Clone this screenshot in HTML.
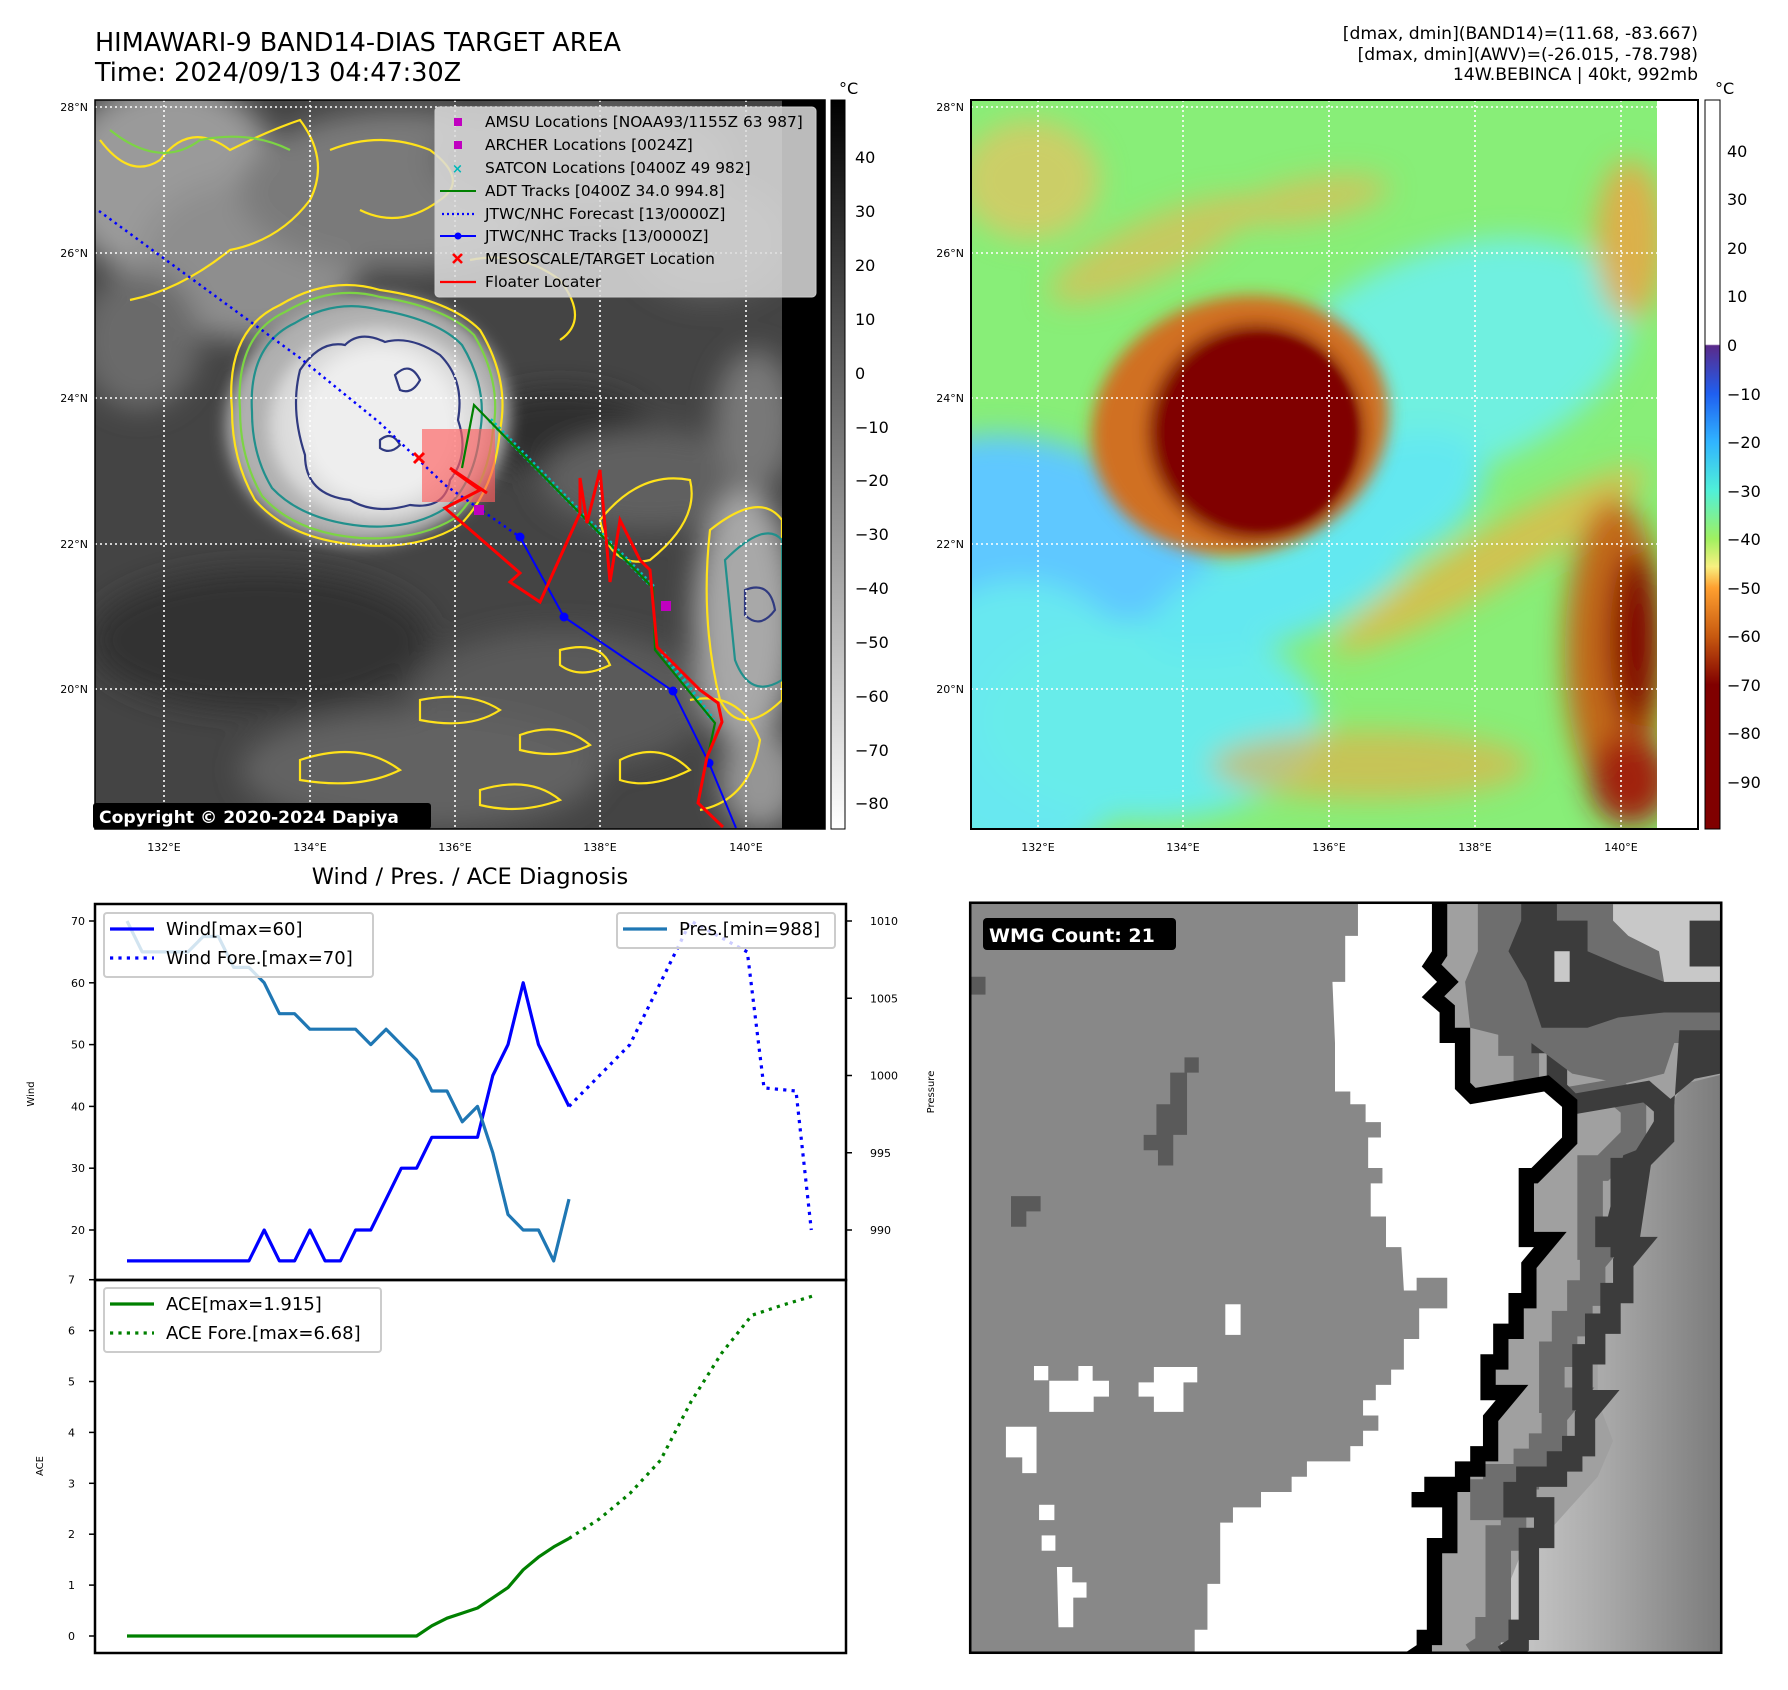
<!DOCTYPE html>
<html><head><meta charset="utf-8">
<style>
html,body{margin:0;padding:0;background:#fff;}
body{width:1788px;height:1690px;position:relative;overflow:hidden;font-family:"DejaVu Sans","Liberation Sans",sans-serif;}
svg{position:absolute;left:0;top:0;}
text{font-family:"DejaVu Sans","Liberation Sans",sans-serif;}
</style></head>
<body>
<svg id="root" width="1788" height="1690" viewBox="0 0 1788 1690" xmlns="http://www.w3.org/2000/svg">
<defs>
  <filter id="b4" x="-20%" y="-20%" width="140%" height="140%"><feGaussianBlur stdDeviation="4"/></filter>
  <filter id="b8" x="-30%" y="-30%" width="160%" height="160%"><feGaussianBlur stdDeviation="8"/></filter>
  <filter id="b14" x="-40%" y="-40%" width="180%" height="180%"><feGaussianBlur stdDeviation="14"/></filter>
  <clipPath id="clipL"><rect x="95" y="100" width="687" height="729"/></clipPath>
  <clipPath id="clipR"><rect x="971" y="100" width="686" height="729"/></clipPath>
  <clipPath id="clipW"><rect x="20" y="25" width="1472" height="1470"/></clipPath>
  <linearGradient id="cbGray" x1="0" y1="0" x2="0" y2="1">
    <stop offset="0" stop-color="#000"/><stop offset="1" stop-color="#fff"/>
  </linearGradient>
  <linearGradient id="cbJet" x1="0" y1="0" x2="0" y2="1">
    <stop offset="0" stop-color="#ffffff"/><stop offset="0.335" stop-color="#ffffff"/>
    <stop offset="0.337" stop-color="#5a2a8a"/><stop offset="0.403" stop-color="#1f5ff0"/>
    <stop offset="0.469" stop-color="#30b4ff"/><stop offset="0.536" stop-color="#50f0d8"/>
    <stop offset="0.602" stop-color="#a0f060"/><stop offset="0.640" stop-color="#f8f080"/>
    <stop offset="0.669" stop-color="#ffa030"/><stop offset="0.735" stop-color="#c85a10"/>
    <stop offset="0.802" stop-color="#800000"/><stop offset="1" stop-color="#800000"/>
  </linearGradient>
  <linearGradient id="wmgLight" x1="0" y1="0" x2="1" y2="0">
    <stop offset="0" stop-color="#d0d0d0"/><stop offset="0.5" stop-color="#a8a8a8"/><stop offset="1" stop-color="#7a7a7a"/>
  </linearGradient>
</defs>

<!-- ========== TITLES ========== -->
<text x="95" y="51" font-size="25.5" fill="#000">HIMAWARI-9 BAND14-DIAS TARGET AREA</text>
<text x="95" y="81" font-size="25.5" fill="#000">Time: 2024/09/13 04:47:30Z</text>
<g font-size="17.2" text-anchor="end" fill="#000">
  <text x="1698" y="39">[dmax, dmin](BAND14)=(11.68, -83.667)</text>
  <text x="1698" y="60">[dmax, dmin](AWV)=(-26.015, -78.798)</text>
  <text x="1698" y="80">14W.BEBINCA | 40kt, 992mb</text>
</g>

<!-- ========== LEFT MAP (IR grayscale) ========== -->
<g>
<rect x="95" y="100" width="730" height="729" fill="#000"/>
<g clip-path="url(#clipL)">
  <rect x="95" y="100" width="687" height="729" fill="#444"/>
  <g filter="url(#b14)">
    <ellipse cx="170" cy="180" rx="110" ry="100" fill="#9a9a9a"/>
    <ellipse cx="250" cy="260" rx="110" ry="80" fill="#8e8e8e"/>
    <ellipse cx="400" cy="190" rx="160" ry="80" fill="#7a7a7a"/>
    <ellipse cx="580" cy="160" rx="150" ry="60" fill="#666"/>
    <ellipse cx="710" cy="240" rx="80" ry="60" fill="#5e5e5e"/>
    <ellipse cx="140" cy="340" rx="60" ry="70" fill="#6a6a6a"/>
    <ellipse cx="560" cy="430" rx="90" ry="40" fill="#2e2e2e"/>
    <ellipse cx="260" cy="640" rx="170" ry="70" fill="#303030"/>
    <ellipse cx="560" cy="700" rx="150" ry="70" fill="#5a5a5a"/>
    <ellipse cx="420" cy="770" rx="180" ry="60" fill="#626262"/>
    <ellipse cx="650" cy="480" rx="110" ry="50" fill="#606060"/>
    <ellipse cx="745" cy="620" rx="50" ry="130" fill="#a8a8a8"/>
    <ellipse cx="755" cy="420" rx="40" ry="70" fill="#787878"/>
    <ellipse cx="760" cy="780" rx="40" ry="50" fill="#959595"/>
  </g>
  <g filter="url(#b8)">
    <ellipse cx="368" cy="420" rx="142" ry="124" fill="#b0b0b0" transform="rotate(-10 368 420)"/>
    <ellipse cx="378" cy="425" rx="108" ry="96" fill="#dcdcdc"/>
    <ellipse cx="380" cy="425" rx="80" ry="78" fill="#eeeeee"/>
  </g>
  <g fill="none" stroke-width="2.2">
    <path d="M232,410 Q225,330 280,305 Q330,275 380,290 Q450,300 480,330 Q510,380 500,430 Q495,490 460,525 Q420,550 360,545 Q290,540 255,500 Q232,460 232,410 Z" stroke="#ffe21a"/>
    <path d="M240,410 Q235,335 285,312 Q332,284 380,297 Q445,307 474,335 Q502,382 493,430 Q488,486 455,518 Q418,541 360,538 Q295,533 262,496 Q240,458 240,410 Z" stroke="#7cd444"/>
    <path d="M252,412 Q248,345 295,323 Q335,298 380,310 Q438,320 462,345 Q488,388 480,432 Q475,482 446,508 Q412,530 362,526 Q302,520 272,488 Q252,455 252,412 Z" stroke="#21908c"/>
    <path d="M300,370 Q320,340 345,345 Q360,330 385,342 Q410,335 440,355 Q465,380 458,420 Q470,455 450,480 Q445,510 410,505 Q375,515 350,500 Q305,495 305,455 Q290,410 300,370 Z" stroke="#303a80"/>
    <path d="M395,375 Q410,360 420,380 Q412,395 400,390 Z M380,440 Q392,430 400,445 Q390,455 380,448 Z" stroke="#303a80"/>
    <path d="M100,140 Q130,180 160,160 Q190,120 230,150 Q270,130 300,120 Q330,160 310,200 Q280,240 230,250 Q180,290 130,300" stroke="#ffe21a"/>
    <path d="M110,130 Q160,170 200,140 Q250,130 290,150" stroke="#7cd444"/>
    <path d="M330,150 Q380,130 430,150 Q470,180 440,200 Q400,230 360,210" stroke="#ffe21a"/>
    <path d="M470,260 Q520,250 560,280 Q590,320 560,340" stroke="#ffe21a"/>
    <path d="M600,520 Q640,470 690,480 Q700,520 650,560 Q610,570 600,520 Z" stroke="#ffe21a"/>
    <path d="M710,530 Q760,490 782,520 L782,700 Q740,740 720,700 Q700,620 710,530 Z" stroke="#ffe21a"/>
    <path d="M725,560 Q765,520 782,540 L782,680 Q750,700 735,660 Z" stroke="#21908c"/>
    <path d="M745,590 Q770,580 775,610 Q760,630 745,615 Z" stroke="#303a80"/>
    <path d="M690,700 Q740,690 760,740 Q750,800 700,810" stroke="#ffe21a"/>
    <path d="M420,700 Q470,690 500,710 Q470,730 420,720 Z" stroke="#ffe21a"/>
    <path d="M300,760 Q360,740 400,770 Q360,790 300,780 Z" stroke="#ffe21a"/>
    <path d="M520,735 Q560,720 590,745 Q560,760 520,750 Z" stroke="#ffe21a"/>
    <path d="M620,760 Q660,740 690,770 Q650,790 620,780 Z" stroke="#ffe21a"/>
    <path d="M480,790 Q530,775 560,800 Q520,815 480,805 Z" stroke="#ffe21a"/>
    <path d="M560,650 Q600,640 610,665 Q580,680 560,665 Z" stroke="#ffe21a"/>
  </g>
  <g stroke="#fff" stroke-width="1.6" stroke-dasharray="2 3">
    <line x1="164" y1="100" x2="164" y2="829"/><line x1="310" y1="100" x2="310" y2="829"/>
    <line x1="455" y1="100" x2="455" y2="829"/><line x1="600" y1="100" x2="600" y2="829"/>
    <line x1="746" y1="100" x2="746" y2="829"/>
    <line x1="95" y1="107" x2="825" y2="107"/><line x1="95" y1="253" x2="825" y2="253"/>
    <line x1="95" y1="398" x2="825" y2="398"/><line x1="95" y1="544" x2="825" y2="544"/>
    <line x1="95" y1="689" x2="825" y2="689"/>
  </g>
  <rect x="422" y="429" width="73" height="73" fill="#ff6060" opacity="0.65"/>
  <polyline points="99,211 300,358 380,423 445,485 520,537" fill="none" stroke="#0000ff" stroke-width="2.5" stroke-dasharray="2.5 4"/>
  <polyline points="520,537 564,617 673,691 709,763 736,828" fill="none" stroke="#0000ff" stroke-width="2"/>
  <g fill="#0000ff"><circle cx="520" cy="537" r="4.5"/><circle cx="564" cy="617" r="4.5"/><circle cx="673" cy="691" r="4.5"/><circle cx="709" cy="763" r="4.5"/></g>
  <polyline points="490,420 653,587" fill="none" stroke="#00c0c0" stroke-width="5" stroke-dasharray="2.5 3"/>
  <polyline points="663,653 713,720" fill="none" stroke="#00c0c0" stroke-width="5" stroke-dasharray="2.5 3"/>
  <polyline points="462,468 474,405 653,588 655,650 715,723 707,760" fill="none" stroke="#008000" stroke-width="2.2"/>
  <polyline points="450,468 487,493 452,470 480,490 445,508 467,527 520,573 510,582 540,602 580,513 580,478 587,523 600,470 610,582 620,520 640,560 650,570 657,647 700,690 718,703 722,722 707,757 698,803 723,827" fill="none" stroke="#ff0000" stroke-width="3"/>
  <g stroke="#ff0000" stroke-width="3"><line x1="414" y1="453" x2="424" y2="463"/><line x1="424" y1="453" x2="414" y2="463"/></g>
  <rect x="474" y="505" width="10" height="10" fill="#c000c0"/>
  <rect x="661" y="601" width="10" height="10" fill="#c000c0"/>
</g>
<g>
  <rect x="435" y="107" width="381" height="190" rx="4" fill="#dcdcdc" fill-opacity="0.85" stroke="#ccc"/>
  <g font-size="15.4" fill="#000">
    <rect x="454" y="118" width="8" height="8" fill="#c000c0"/><text x="485" y="127">AMSU Locations [NOAA93/1155Z 63 987]</text>
    <rect x="454" y="141" width="8" height="8" fill="#c000c0"/><text x="485" y="150">ARCHER Locations [0024Z]</text>
    <text x="452" y="173" font-size="13" fill="#00b8b8" font-weight="bold">×</text><text x="485" y="173">SATCON Locations [0400Z 49 982]</text>
    <line x1="440" y1="191" x2="476" y2="191" stroke="#008000" stroke-width="2"/><text x="485" y="196">ADT Tracks [0400Z 34.0 994.8]</text>
    <line x1="442" y1="214" x2="476" y2="214" stroke="#0000ff" stroke-width="2.2" stroke-dasharray="2 3"/><text x="485" y="219">JTWC/NHC Forecast [13/0000Z]</text>
    <line x1="440" y1="236" x2="476" y2="236" stroke="#0000ff" stroke-width="2"/><circle cx="458" cy="236" r="3.5" fill="#0000ff"/><text x="485" y="241">JTWC/NHC Tracks [13/0000Z]</text>
    <g stroke="#ff0000" stroke-width="2.6"><line x1="453" y1="254" x2="462" y2="263"/><line x1="462" y1="254" x2="453" y2="263"/></g><text x="485" y="264">MESOSCALE/TARGET Location</text>
    <line x1="440" y1="282" x2="476" y2="282" stroke="#ff0000" stroke-width="2.2"/><text x="485" y="287">Floater Locater</text>
  </g>
</g>
<rect x="93" y="803" width="338" height="26" rx="3" fill="#000"/>
<text x="99" y="823" font-size="17.2" font-weight="bold" fill="#fff">Copyright © 2020-2024 Dapiya</text>
<rect x="95" y="100" width="730" height="729" fill="none" stroke="#000" stroke-width="1.5"/>
</g>
<g font-size="11" fill="#000">
  <g text-anchor="end"><text x="88" y="111">28°N</text><text x="88" y="257">26°N</text><text x="88" y="402">24°N</text><text x="88" y="548">22°N</text><text x="88" y="693">20°N</text></g>
  <g text-anchor="middle"><text x="164" y="851">132°E</text><text x="310" y="851">134°E</text><text x="455" y="851">136°E</text><text x="600" y="851">138°E</text><text x="746" y="851">140°E</text></g>
</g>
<g>
  <rect x="831" y="100" width="14" height="729" fill="url(#cbGray)" stroke="#000" stroke-width="1"/>
  <text x="839" y="94" font-size="16">°C</text>
  <g font-size="16" fill="#000">
    <text x="855" y="163">40</text><text x="855" y="217">30</text><text x="855" y="271">20</text><text x="855" y="325">10</text>
    <text x="855" y="379">0</text><text x="855" y="433">−10</text><text x="855" y="486">−20</text><text x="855" y="540">−30</text>
    <text x="855" y="594">−40</text><text x="855" y="648">−50</text><text x="855" y="702">−60</text><text x="855" y="756">−70</text><text x="855" y="809">−80</text>
  </g>
</g>

<!-- ========== RIGHT MAP ========== -->
<g>
<rect x="971" y="100" width="727" height="729" fill="#fff"/>
<g clip-path="url(#clipR)">
  <rect x="971" y="100" width="686" height="729" fill="#88ee78"/>
  <g filter="url(#b14)">
    <ellipse cx="1450" cy="360" rx="190" ry="110" fill="#70f0e0" transform="rotate(-20 1450 360)"/>
    <ellipse cx="1060" cy="560" rx="180" ry="110" fill="#5ec8ff" transform="rotate(25 1060 560)"/>
    <ellipse cx="1020" cy="720" rx="130" ry="140" fill="#68e8f0"/>
    <ellipse cx="1150" cy="720" rx="170" ry="100" fill="#68ecea"/>
    <ellipse cx="1280" cy="590" rx="140" ry="50" fill="#64e8f0" transform="rotate(-20 1280 590)"/>
    <ellipse cx="1390" cy="500" rx="100" ry="60" fill="#64e8f0" transform="rotate(-25 1390 500)"/>
    <ellipse cx="1030" cy="180" rx="70" ry="60" fill="#e8c060" opacity="0.7"/>
    <ellipse cx="1150" cy="250" rx="110" ry="30" fill="#f0b050" opacity="0.6" transform="rotate(-25 1150 250)"/>
    <ellipse cx="1310" cy="200" rx="80" ry="22" fill="#f0b050" opacity="0.6" transform="rotate(-10 1310 200)"/>
    <ellipse cx="1630" cy="240" rx="35" ry="80" fill="#f0a040" opacity="0.8"/>
    <ellipse cx="1490" cy="560" rx="180" ry="28" fill="#f0b040" opacity="0.7" transform="rotate(-30 1490 560)"/>
    <ellipse cx="1615" cy="650" rx="50" ry="150" fill="#c85a10" opacity="0.9"/>
    <ellipse cx="1635" cy="640" rx="25" ry="90" fill="#800000"/>
    <ellipse cx="1370" cy="765" rx="160" ry="35" fill="#f0a840" opacity="0.6"/>
    <ellipse cx="1630" cy="780" rx="40" ry="45" fill="#a02008"/>
  </g>
  <g filter="url(#b8)">
    <ellipse cx="1240" cy="425" rx="150" ry="128" fill="#d07020" transform="rotate(-15 1240 425)"/>
    <ellipse cx="1256" cy="432" rx="108" ry="108" fill="#800000"/>
  </g>
  <ellipse cx="1262" cy="432" rx="94" ry="96" fill="#800000" filter="url(#b4)"/>
  <g stroke="#fff" stroke-width="1.6" stroke-dasharray="2 3">
    <line x1="1038" y1="100" x2="1038" y2="829"/><line x1="1183" y1="100" x2="1183" y2="829"/>
    <line x1="1329" y1="100" x2="1329" y2="829"/><line x1="1475" y1="100" x2="1475" y2="829"/>
    <line x1="1621" y1="100" x2="1621" y2="829"/>
    <line x1="971" y1="107" x2="1657" y2="107"/><line x1="971" y1="253" x2="1657" y2="253"/>
    <line x1="971" y1="398" x2="1657" y2="398"/><line x1="971" y1="544" x2="1657" y2="544"/>
    <line x1="971" y1="689" x2="1657" y2="689"/>
  </g>
</g>
<rect x="971" y="100" width="727" height="729" fill="none" stroke="#000" stroke-width="2"/>
</g>
<g font-size="11" fill="#000">
  <g text-anchor="end"><text x="964" y="111">28°N</text><text x="964" y="257">26°N</text><text x="964" y="402">24°N</text><text x="964" y="548">22°N</text><text x="964" y="693">20°N</text></g>
  <g text-anchor="middle"><text x="1038" y="851">132°E</text><text x="1183" y="851">134°E</text><text x="1329" y="851">136°E</text><text x="1475" y="851">138°E</text><text x="1621" y="851">140°E</text></g>
</g>
<g>
  <rect x="1705" y="100" width="15" height="729" fill="url(#cbJet)" stroke="#000" stroke-width="1"/>
  <text x="1715" y="94" font-size="16">°C</text>
  <g font-size="16" fill="#000">
    <text x="1727" y="157">40</text><text x="1727" y="205">30</text><text x="1727" y="254">20</text><text x="1727" y="302">10</text>
    <text x="1727" y="351">0</text><text x="1727" y="400">−10</text><text x="1727" y="448">−20</text><text x="1727" y="497">−30</text>
    <text x="1727" y="545">−40</text><text x="1727" y="594">−50</text><text x="1727" y="642">−60</text><text x="1727" y="691">−70</text>
    <text x="1727" y="739">−80</text><text x="1727" y="788">−90</text>
  </g>
</g>

<!-- ========== WMG PANEL ========== -->
<g transform="translate(960,890) scale(0.5102)">
  <defs>
    <polyline id="wb" points="925,20 925,120 905,150 935,180 905,210 940,240 940,300 970,300 970,390 1000,420 1145,395 1180,425 1180,485 1150,515 1120,545 1095,545 1095,700 1125,700 1100,730 1100,790 1075,790 1075,850 1045,850 1045,910 1020,910 1020,1000 1050,1000 1025,1030 1025,1090 1000,1090 1000,1120 970,1120 970,1150 910,1150 910,1180 885,1180 885,1210 945,1210 945,1270 915,1270 915,1450 895,1450 895,1480 865,1500"/>
  </defs>
  <g clip-path="url(#clipW)">
    <rect x="20" y="25" width="1472" height="1470" fill="#888"/>
    <polygon points="925,20 925,120 905,150 935,180 905,210 940,240 940,300 970,300 970,390 1000,420 1145,395 1180,425 1180,485 1150,515 1120,545 1095,545 1095,700 1125,700 1100,730 1100,790 1075,790 1075,850 1045,850 1045,910 1020,910 1020,1000 1050,1000 1025,1030 1025,1090 1000,1090 1000,1120 970,1120 970,1150 910,1150 910,1180 885,1180 885,1210 945,1210 945,1270 915,1270 915,1450 895,1450 895,1480 865,1500 1500,1500 1500,20" fill="#a0a0a0"/>
    <polygon points="1500,360 1420,380 1360,470 1330,560 1300,680 1270,800 1250,900 1250,1000 1280,1080 1250,1150 1160,1250 1100,1300 1060,1400 1040,1500 1500,1500" fill="url(#wmgLight)"/>
    <use href="#wb" transform="translate(140,0)" fill="none" stroke="#6e6e6e" stroke-width="50"/>
    <use href="#wb" transform="translate(200,0)" fill="none" stroke="#3c3c3c" stroke-width="40"/>
    <polygon points="1015,20 1500,20 1500,300 1400,300 1380,360 1300,380 1200,360 1120,300 1000,270 990,180 1015,120" fill="#6e6e6e"/>
    <polygon points="1100,20 1170,20 1170,60 1230,60 1230,120 1300,150 1380,180 1490,180 1490,240 1380,240 1290,250 1230,270 1140,270 1110,180 1075,120 1100,60" fill="#3c3c3c"/>
    <polygon points="1280,28 1490,28 1490,180 1380,180 1370,120 1310,90 1280,60" fill="#c8c8c8"/>
    <polygon points="1430,60 1490,60 1490,150 1430,150" fill="#3c3c3c"/>
    <rect x="1165" y="120" width="30" height="60" fill="#c8c8c8"/>
    <polygon points="1410,275 1490,275 1490,360 1440,370 1380,420 1350,470 1325,510 1300,520 1270,640 1245,640 1245,700 1330,700 1360,500 1400,420" fill="#3c3c3c"/>
    <use href="#wb" fill="none" stroke="#000" stroke-width="60"/>
    <polygon points="925,20 925,120 905,150 935,180 905,210 940,240 940,300 970,300 970,390 1000,420 1145,395 1180,425 1180,485 1150,515 1120,545 1095,545 1095,700 1125,700 1100,730 1100,790 1075,790 1075,850 1045,850 1045,910 1020,910 1020,1000 1050,1000 1025,1030 1025,1090 1000,1090 1000,1120 970,1120 970,1150 910,1150 910,1180 885,1180 885,1210 945,1210 945,1270 915,1270 915,1450 895,1450 895,1480 865,1500 460,1500 460,1450 485,1450 485,1360 510,1360 510,1240 535,1240 535,1210 590,1210 590,1180 650,1180 650,1150 680,1150 680,1120 765,1120 765,1090 790,1090 790,1060 820,1060 820,1030 790,1030 790,1000 815,1000 815,970 845,970 845,940 870,940 870,880 900,880 900,820 955,820 955,760 895,760 895,785 870,785 865,700 835,700 835,640 805,640 805,575 828,575 828,545 800,545 800,485 825,485 825,455 795,455 795,420 765,420 765,395 735,395 735,300 730,180 755,180 755,90 780,90 780,20" fill="#fff"/>
    <g fill="#5a5a5a">
      <rect x="20" y="170" width="30" height="35"/>
      <polygon points="440,328 468,328 468,358 445,358 445,480 418,480 418,540 388,540 388,510 360,510 360,480 385,480 385,420 412,420 412,358 440,358"/>
      <polygon points="100,600 158,600 158,630 130,630 130,660 100,660"/>
    </g>
    <g fill="#fff">
      <rect x="520" y="812" width="30" height="60"/>
      <rect x="145" y="933" width="28" height="28"/>
      <polygon points="175,962 232,962 232,933 260,933 260,962 292,962 292,993 262,993 262,1023 175,1023"/>
      <polygon points="380,935 465,935 465,965 438,965 438,1023 380,1023 380,993 350,993 350,965 380,965"/>
      <polygon points="90,1052 150,1052 150,1143 122,1143 122,1112 90,1112"/>
      <rect x="155" y="1205" width="30" height="30"/>
      <rect x="160" y="1265" width="27" height="30"/>
      <polygon points="190,1327 220,1327 220,1357 248,1357 248,1387 222,1387 222,1445 193,1445"/>
    </g>
  </g>
  <rect x="20" y="25" width="1472" height="1470" fill="none" stroke="#000" stroke-width="5"/>
</g>
<rect x="983" y="918" width="193" height="32" rx="4" fill="#000"/>
<text x="989" y="942" font-size="19" font-weight="bold" fill="#fff">WMG Count: 21</text>

<!-- ========== BOTTOM LEFT CHARTS ========== -->
<text x="470" y="884" font-size="22.5" text-anchor="middle">Wind / Pres. / ACE Diagnosis</text>
<g id="charts"></g>
</svg>

<script>
// ---- chart data ----
const windObs = [15,15,15,15,15,15,15,15,15,20,15,15,20,15,15,20,20,25,30,30,35,35,35,35,45,50,60,50,45,40];
const windForeIdx = [29,33,37,40.7,41.8,43.9,44.9];
const windFore = [40,50,70,65,43,42.5,20];
const presObs = [1010,1008,1008,1008,1008,1009,1009,1007,1007,1006,1004,1004,1003,1003,1003,1003,1002,1003,1002,1001,999,999,997,998,995,991,990,990,988,992];
const aceObs = [0,0,0,0,0,0,0,0,0,0,0,0,0,0,0,0,0,0,0,0,0.2,0.35,0.45,0.55,0.75,0.95,1.3,1.55,1.75,1.915];
const aceForeIdx = [29,31,33,35,37,39,41,43,45];
const aceFore = [1.915,2.3,2.8,3.45,4.6,5.55,6.3,6.5,6.68];
const windTicks = [20,30,40,50,60,70];
const presTicks = [990,995,1000,1005,1010];
const aceTicks = [0,1,2,3,4,5,6,7];

// ---- axis functions ----
const AX = {l:95, r:846, t1:904, m:1280, b:1653};
function xi(i){ return 127 + i*15.24; }
function yWind(v){ return 921 + (70-v)*6.18; }
function yPres(p){ return 921 + (1010-p)*15.45; }
function yAce(a){ return 1636 - a*50.9; }

const NS = 'http://www.w3.org/2000/svg';
const g = document.getElementById('charts');
function mk(tag, attrs, parent){
  const e = document.createElementNS(NS, tag);
  for (const k in attrs) e.setAttribute(k, attrs[k]);
  (parent||g).appendChild(e);
  return e;
}
function pts(xs, ys){ return xs.map((x,k)=>x.toFixed(1)+','+ys[k].toFixed(1)).join(' '); }
const idxObs = windObs.map((_,i)=>i);

const f1 = mk('rect',{x:AX.l,y:AX.t1,width:AX.r-AX.l,height:AX.m-AX.t1,fill:'none',stroke:'#000','stroke-width':2.5});


const f2 = mk('rect',{x:AX.l,y:AX.m,width:AX.r-AX.l,height:AX.b-AX.m,fill:'none',stroke:'#000','stroke-width':2.5});



windTicks.forEach(v=>{
  const y = yWind(v);
  mk('line',{x1:AX.l-6,y1:y,x2:AX.l,y2:y,stroke:'#000','stroke-width':1.5});
  const t = mk('text',{x:AX.l-10,y:y+4,'font-size':11,'text-anchor':'end'});
  t.textContent = v;
  
  
});
presTicks.forEach(p=>{
  const y = yPres(p);
  mk('line',{x1:AX.r,y1:y,x2:AX.r+6,y2:y,stroke:'#000','stroke-width':1.5});
  const t = mk('text',{x:AX.r+24,y:y+4,'font-size':11});
  t.textContent = p;
  
  
});
aceTicks.forEach(a=>{
  const y = yAce(a);
  mk('line',{x1:AX.l-6,y1:y,x2:AX.l,y2:y,stroke:'#000','stroke-width':1.5});
  const t = mk('text',{x:AX.l-20,y:y+4,'font-size':11,'text-anchor':'end'});
  t.textContent = a;
  
  
});
const wl = mk('text',{x:0,y:0,'font-size':10,'text-anchor':'middle',transform:'translate(34,1094) rotate(-90)'});
wl.textContent='Wind';


const pl = mk('text',{x:0,y:0,'font-size':10,'text-anchor':'middle',transform:'translate(934,1092) rotate(-90)'});
pl.textContent='Pressure';


const al = mk('text',{x:0,y:0,'font-size':10,'text-anchor':'middle',transform:'translate(43,1466) rotate(-90)'});
al.textContent='ACE';



const wObs = mk('polyline',{points:pts(idxObs.map(xi), windObs.map(yWind)),fill:'none',stroke:'#0000ff','stroke-width':3.2,'stroke-linejoin':'round'});


const wF = mk('polyline',{points:pts(windForeIdx.map(xi), windFore.map(yWind)),fill:'none',stroke:'#0000ff','stroke-width':3.2,'stroke-dasharray':'3.2 5.2'});


const pL = mk('polyline',{points:pts(idxObs.map(xi), presObs.map(yPres)),fill:'none',stroke:'#1f77b4','stroke-width':3.2,'stroke-linejoin':'round'});


const aL = mk('polyline',{points:pts(idxObs.map(xi), aceObs.map(yAce)),fill:'none',stroke:'#008000','stroke-width':3.2,'stroke-linejoin':'round'});


const aF = mk('polyline',{points:pts(aceForeIdx.map(xi), aceFore.map(yAce)),fill:'none',stroke:'#008000','stroke-width':3.2,'stroke-dasharray':'3.2 5.2'});



function legend(x,y,w,h,items,name){
  const lg = mk('g',{});
  
  
  mk('rect',{x:x,y:y,width:w,height:h,rx:3,fill:'#fff','fill-opacity':0.8,stroke:'#ccc','stroke-width':2},lg);
  items.forEach((it,k)=>{
    const yy = y+16+k*29;
    const a = {x1:x+6,y1:yy,x2:x+50,y2:yy,stroke:it.c,'stroke-width':3.2};
    if(it.d) a['stroke-dasharray']='3.2 5.2';
    mk('line',a,lg);
    const t = mk('text',{x:x+62,y:yy+6,'font-size':18},lg);
    t.textContent = it.t;
  });
}
legend(104,913,269,64,[{c:'#0000ff',t:'Wind[max=60]'},{c:'#0000ff',t:'Wind Fore.[max=70]',d:1}],'wind-legend');
legend(617,913,218,35,[{c:'#1f77b4',t:'Pres.[min=988]'}],'pressure-legend');
legend(104,1288,277,64,[{c:'#008000',t:'ACE[max=1.915]'},{c:'#008000',t:'ACE Fore.[max=6.68]',d:1}],'ace-legend');
</script>
</body></html>
